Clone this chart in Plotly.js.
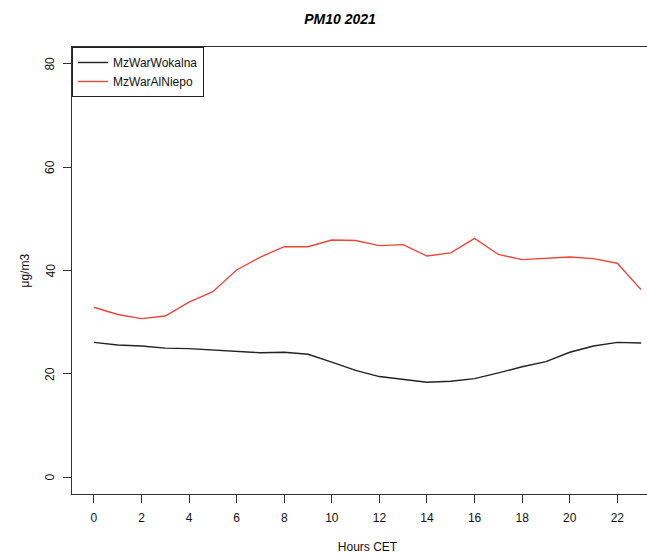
<!DOCTYPE html>
<html>
<head>
<meta charset="utf-8">
<script src="https://cdn.plot.ly/plotly-3.0.1.min.js"></script>
<style>
html, body { margin: 0; padding: 0; overflow: hidden; background: #fff; }
#chart { width: 680px; height: 554px; }
</style>
</head>
<body>
<div id="chart"></div>
<script>
const hours = [0,1,2,3,4,5,6,7,8,9,10,11,12,13,14,15,16,17,18,19,20,21,22,23];
const seriesNames = ["MzWarWokalna", "MzWarAlNiepo"];
const wokalna = [26.1,25.6,25.4,25.0,24.9,24.6,24.4,24.1,24.2,23.8,22.3,20.7,19.5,18.9,18.4,18.6,19.1,20.2,21.4,22.4,24.2,25.4,26.1,26.0];
const alNiepo = [32.9,31.5,30.7,31.2,33.9,35.9,40.1,42.6,44.6,44.6,45.9,45.8,44.8,45.0,42.8,43.4,46.2,43.1,42.1,42.3,42.6,42.3,41.4,36.3];
const xTicks = [0,2,4,6,8,10,12,14,16,18,20,22];
const yTicks = [0,20,40,60,80];

const font = "Liberation Sans, Arial, Helvetica, sans-serif";

const traces = [
  { x: hours, y: wokalna, name: seriesNames[0], type: "scatter", mode: "lines",
    line: { color: "#222", width: 1.4 } },
  { x: hours, y: alNiepo, name: seriesNames[1], type: "scatter", mode: "lines",
    line: { color: "#e8473b", width: 1.4 } }
];
const pw = 591;
// rotated y tick labels (R style), placed on the y scale
const yLabelAnns = yTicks.map(v => ({
  text: String(v), xref: "paper", yref: "y", x: (50 - 72) / pw, y: v,
  xanchor: "center", yanchor: "middle", textangle: -90, showarrow: false,
  font: { family: font, size: 12, color: "#111" }
}));

const layout = {
  width: 680, height: 554,
  margin: { l: 72, r: 17, t: 47, b: 60 },
  paper_bgcolor: "#fff", plot_bgcolor: "#fff",
  font: { family: font, size: 12, color: "#111" },
  title: { text: "<b><i>PM10 2021</i></b>", x: 0.5, xanchor: "center", y: 1, yref: "paper",
           yanchor: "bottom", pad: { b: 23 }, font: { family: font, size: 14, color: "#000" } },
  showlegend: true,
  legend: { x: 0, y: 1, xanchor: "left", yanchor: "top", bordercolor: "#222", borderwidth: 1,
            bgcolor: "#fff", font: { family: font, size: 12, color: "#111" }, tracegroupgap: 0 },
  annotations: [{
    text: "μg/m3", xref: "paper", yref: "paper", x: (24 - 72) / pw, y: 0.5,
    xanchor: "center", yanchor: "middle", textangle: -90, showarrow: false,
    font: { family: font, size: 12, color: "#111" }
  }].concat(yLabelAnns),
  xaxis: {
    range: [-0.92, 23.92], tickmode: "array", tickvals: xTicks, ticktext: xTicks.map(String),
    showgrid: false, zeroline: false, showline: true, mirror: true, linecolor: "#333", linewidth: 1,
    ticks: "outside", ticklen: 8, tickcolor: "#333", ticklabelstandoff: 5,
    title: { text: "Hours CET", standoff: 18, font: { family: font, size: 12, color: "#111" } }
  },
  yaxis: {
    range: [-3.2, 83.2], tickmode: "array", tickvals: yTicks, showticklabels: false,
    showgrid: false, zeroline: false, showline: true, mirror: true, linecolor: "#333", linewidth: 1,
    ticks: "outside", ticklen: 8, tickcolor: "#333"
  }
};

Plotly.newPlot("chart", traces, layout, { staticPlot: true, displayModeBar: false });
</script>
</body>
</html>
